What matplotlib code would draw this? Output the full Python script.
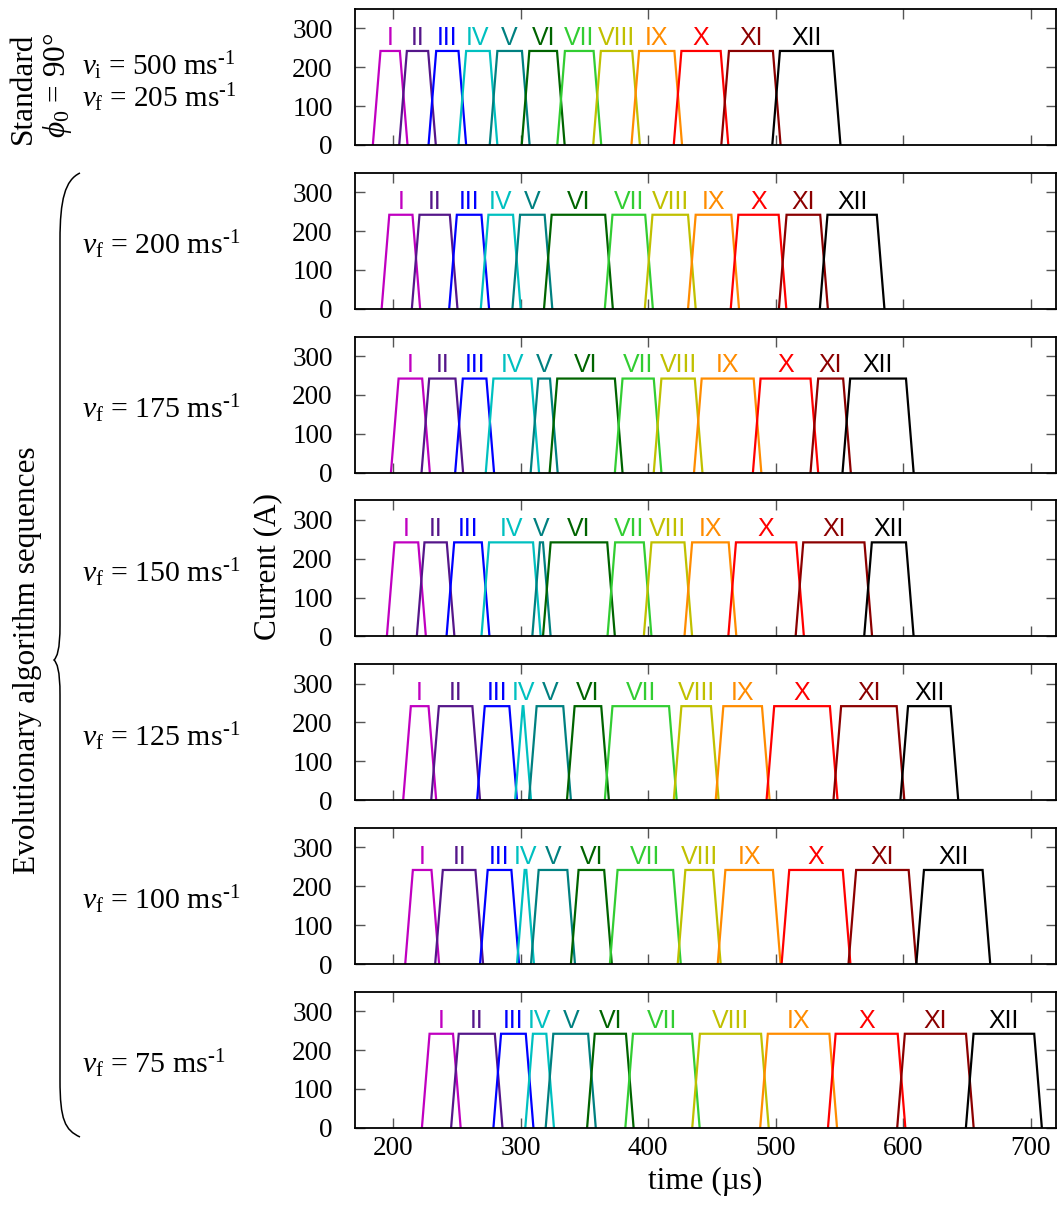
import matplotlib
matplotlib.use("Agg")
import matplotlib.pyplot as plt
from matplotlib.path import Path
from matplotlib.patches import PathPatch

plt.rcParams["mathtext.fontset"] = "custom"
plt.rcParams["mathtext.rm"] = "Liberation Serif"
plt.rcParams["mathtext.it"] = "Liberation Serif:italic"
plt.rcParams["mathtext.bf"] = "Liberation Serif:bold"
plt.rcParams["font.family"] = ["Liberation Serif", "DejaVu Serif"]

# ---- data -------------------------------------------------------------
numerals = ["I", "II", "III", "IV", "V", "VI", "VII", "VIII", "IX", "X", "XI", "XII"]
coil_colors = ["#c000c0", "#55168a", "#0000ff", "#00c0c0", "#008080", "#006400",
               "#32cd32", "#c0c000", "#ff8c00", "#ff0000", "#8b0000", "#000000"]

pulse_current = 242.0   # A, flat-top current
ramp_time = 6.0         # µs, rise / fall duration

row_labels = ["standard", "200", "175", "150", "125", "100", "75"]

# switch-on (start of rise) and switch-off (end of fall) times, µs
on_standard = [184.0, 204.7, 227.7, 251.2, 275.7, 300.8, 328.7, 356.9, 386.9, 420.1, 457.4, 497.4]
off_standard = [211.2, 233.4, 257.2, 281.7, 307.0, 334.5, 363.2, 393.5, 426.6, 462.9, 503.9, 550.9]

on_200 = [190.9, 214.6, 243.9, 268.7, 293.5, 318.3, 366.0, 397.4, 431.3, 464.8, 502.6, 534.7]
off_200 = [221.1, 250.4, 275.2, 300.0, 324.8, 372.3, 403.7, 437.3, 471.3, 508.4, 541.0, 585.4]

on_175 = [198.2, 222.2, 248.6, 272.6, 307.8, 322.7, 373.9, 404.4, 436.0, 482.2, 527.4, 552.5]
off_175 = [228.7, 254.8, 279.1, 314.4, 329.0, 379.9, 410.4, 442.6, 488.8, 533.4, 559.0, 608.3]

on_150 = [195.0, 218.5, 241.8, 269.2, 309.1, 317.5, 368.1, 396.6, 428.5, 462.9, 515.7, 569.5]
off_150 = [225.6, 248.0, 275.5, 315.7, 323.5, 373.9, 402.6, 434.5, 469.2, 522.2, 575.7, 608.3]

on_125 = [207.8, 229.8, 265.8, 295.6, 306.5, 336.3, 366.0, 420.1, 453.0, 492.9, 545.4, 597.9]
off_125 = [233.7, 268.1, 297.1, 308.1, 339.4, 369.2, 422.4, 455.3, 495.3, 548.6, 601.0, 643.3]

on_100 = [209.4, 232.9, 268.1, 297.1, 308.1, 339.4, 370.0, 423.2, 454.6, 504.7, 557.2, 610.4]
off_100 = [236.0, 270.5, 298.7, 310.4, 342.6, 371.5, 425.6, 456.9, 503.9, 558.7, 610.4, 668.4]

on_75 = [222.5, 245.4, 278.6, 303.6, 319.6, 352.1, 382.1, 434.6, 487.9, 541.1, 595.4, 649.3]
off_75 = [252.9, 285.7, 310.0, 326.1, 358.9, 388.6, 440.4, 494.6, 548.2, 601.8, 655.4, 708.9]

sequences = [(on_standard, off_standard), (on_200, off_200), (on_175, off_175),
             (on_150, off_150), (on_125, off_125), (on_100, off_100), (on_75, off_75)]

x_ticks = [200, 300, 400, 500, 600, 700]
y_ticks = [0, 100, 200, 300]

# ---- figure -----------------------------------------------------------
W, H = 1057, 1212
fig = plt.figure(figsize=(W / 100, H / 100), dpi=100)

ax_left, ax_right = 355, 1056
first_top, panel_h, step = 9, 136, 163.8

axes = []
for i, (on, off) in enumerate(sequences):
    top = first_top + i * step
    ax = fig.add_axes([ax_left / W, 1 - (top + panel_h) / H,
                       (ax_right - ax_left) / W, panel_h / H])
    for name, col, t0, t1 in zip(numerals, coil_colors, on, off):
        ax.plot([t0, t0 + ramp_time, t1 - ramp_time, t1],
                [0, pulse_current, pulse_current, 0], color=col, lw=1.6,
                solid_joinstyle="miter")
        ax.text((t0 + t1) / 2, 258, name, color=col, ha="center", va="baseline",
                fontsize=18, family=["Liberation Sans", "DejaVu Sans"])
    ax.set_xlim(170, 720)
    ax.set_ylim(0, 350)
    ax.set_xticks(x_ticks)
    ax.set_yticks(y_ticks)
    ax.tick_params(direction="in", length=7, width=1.0, color="#555555",
                   top=True, right=True, labelsize=19.5, pad=6)
    ax.tick_params(axis="y", pad=16)
    for sp in ax.spines.values():
        sp.set_linewidth(1.3)
    if i < len(sequences) - 1:
        ax.set_xticklabels([])
    axes.append(ax)

axes[-1].set_xlabel("time (µs)", fontsize=22.5, labelpad=4)


def fx(px):
    return px / W


def fy(py):
    return 1 - py / H


per_s = r" ms$^{\text{-1}}$"

# row annotations on the left
fig.text(fx(23), fy(88), "Standard", rotation=90, ha="center", va="center", fontsize=22.5)
fig.text(fx(57), fy(85), r"$\phi_0$ = 90°", rotation=90, ha="center", va="center", fontsize=22.5)
fig.text(fx(82), fy(66), r"$v_\mathrm{i}$ = 500" + per_s, ha="left", va="center", fontsize=21)
fig.text(fx(82), fy(98), r"$v_\mathrm{f}$ = 205" + per_s, ha="left", va="center", fontsize=21)

for i, lab in enumerate(row_labels[1:], start=1):
    yc = first_top + i * step + panel_h / 2 + 4
    fig.text(fx(82), fy(yc), r"$v_\mathrm{f}$ = " + lab + per_s,
             ha="left", va="center", fontsize=21.5)

fig.text(fx(268), fy(567), "Current (A)", rotation=90, ha="center", va="center", fontsize=22.5)
fig.text(fx(28), fy(660), "Evolutionary algorithm sequences", rotation=90,
         ha="center", va="center", fontsize=22.5)

# curly brace grouping the optimised sequences
brace_px = [(80, 173), (65, 180), (60, 200), (60, 240),
            (60, 625),
            (60, 650), (57, 657), (54, 660),
            (57, 663), (60, 670), (60, 695),
            (60, 1080),
            (60, 1120), (65, 1130), (80, 1137)]
codes = [Path.MOVETO, Path.CURVE4, Path.CURVE4, Path.CURVE4,
         Path.LINETO,
         Path.CURVE4, Path.CURVE4, Path.CURVE4,
         Path.CURVE4, Path.CURVE4, Path.CURVE4,
         Path.LINETO,
         Path.CURVE4, Path.CURVE4, Path.CURVE4]
verts = [(fx(x), fy(y)) for x, y in brace_px]
fig.patches.append(PathPatch(Path(verts, codes), transform=fig.transFigure,
                             fill=False, lw=1.1, edgecolor="black"))

fig.savefig("out.png", dpi=100)
